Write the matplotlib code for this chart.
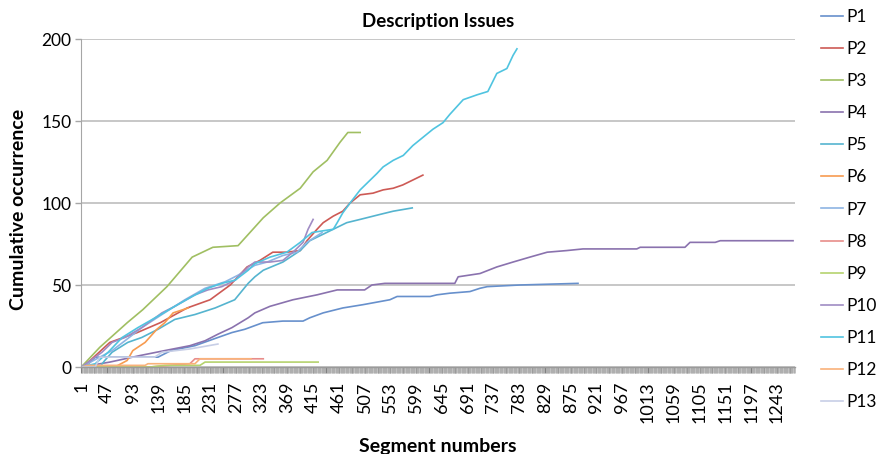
import numpy as np
import matplotlib
matplotlib.use('agg')
import matplotlib.pyplot as plt
from matplotlib.ticker import FixedLocator, MultipleLocator, FuncFormatter

plt.rcParams['font.family'] = ['Lato', 'DejaVu Sans']

# cumulative description issues per participant, (segment number, count) breakpoints
p1_x = [1, 8, 26, 138, 161, 204, 245, 270, 293, 325, 361, 397, 409, 433, 468, 504, 552, 565,
        624, 636, 659, 695, 713, 726, 784, 888]
p1_y = [0, 0, 6, 6, 10, 13, 18, 21, 23, 27, 28, 28, 30, 33, 36, 38, 41, 43,
        43, 44, 45, 46, 48, 49, 50, 51]
p2_x = [1, 17, 52, 101, 142, 190, 231, 267, 297, 320, 343, 368, 392, 404, 422, 433, 451, 468,
        481, 499, 522, 540, 558, 575, 593, 611]
p2_y = [0, 4, 15, 21, 27, 36, 41, 50, 61, 65, 70, 70, 71, 77, 84, 88, 92, 95,
        100, 105, 106, 108, 109, 111, 114, 117]
p3_x = [1, 34, 83, 111, 154, 199, 236, 281, 326, 356, 392, 415, 440, 463, 477, 499]
p3_y = [0, 12, 27, 35, 49, 67, 73, 74, 91, 100, 109, 119, 126, 137, 143, 143]
p4_x = [1, 52, 106, 150, 195, 222, 245, 270, 299, 311, 338, 379, 422, 458, 507, 520, 543, 668,
        674, 713, 743, 772, 802, 833, 868, 897, 993, 999, 1079, 1088, 1133, 1142, 1272]
p4_y = [0, 3, 7, 10, 13, 16, 20, 24, 30, 33, 37, 41, 44, 47, 47, 50, 51, 51,
        55, 57, 61, 64, 67, 70, 71, 72, 72, 73, 73, 76, 76, 77, 77]
p5_x = [1, 34, 43, 56, 84, 109, 138, 168, 204, 240, 275, 299, 311, 326, 361, 392, 409, 427,
        451, 475, 499, 534, 558, 592]
p5_y = [0, 0, 4, 9, 15, 18, 23, 29, 32, 36, 41, 51, 55, 59, 64, 71, 77, 80,
        84, 88, 90, 93, 95, 97]
p6_x = [1, 61, 83, 93, 115, 136, 150, 165, 192]
p6_y = [0, 0, 4, 10, 15, 23, 27, 33, 36]
p7_x = [1, 34, 56, 79, 109, 145, 186, 222, 258, 281, 311, 333, 361, 386, 404, 422, 431]
p7_y = [0, 6, 10, 16, 24, 32, 41, 48, 52, 56, 62, 64, 68, 70, 76, 80, 82]
p8_x = [1, 124, 159, 195, 204, 326]
p8_y = [0, 0, 1, 2, 5, 5]
p9_x = [1, 124, 150, 213, 222, 424]
p9_y = [0, 0, 1, 1, 3, 3]
p10_x = [1, 22, 38, 56, 79, 109, 145, 168, 204, 227, 252, 276, 284, 299, 311, 338, 361, 379,
         397, 406, 415]
p10_y = [0, 5, 9, 15, 18, 24, 33, 37, 44, 47, 49, 53, 56, 61, 64, 64, 65, 70,
         76, 84, 90]
p11_x = [1, 26, 49, 74, 102, 138, 168, 199, 227, 252, 276, 299, 311, 338, 368, 392, 413, 451,
         458, 468, 481, 499, 511, 529, 540, 558, 576, 593, 611, 629, 647, 659, 683, 708,
         727, 743, 761, 772, 779]
p11_y = [0, 2, 9, 18, 24, 31, 37, 43, 48, 51, 53, 59, 63, 67, 70, 76, 82, 84,
         88, 94, 100, 108, 112, 118, 122, 126, 129, 135, 140, 145, 149, 154, 163, 166,
         168, 179, 182, 190, 194]
p12_x = [1, 13, 115, 120, 204, 213, 304]
p12_y = [0, 1, 1, 2, 2, 5, 5]
p13_x = [1, 26, 34, 132, 145, 195, 245]
p13_y = [0, 0, 6, 6, 9, 11, 14]

labels = ['P%d' % i for i in range(1, 14)]
colors = ['#6790CC', '#CD5A55', '#A0BF62', '#8A72AE', '#55B4CF', '#F79B50', '#8EB4E3',
          '#E88D8A', '#B5D36E', '#A08CC4', '#50C4E0', '#F9B27A', '#C7CEE6']
n_segments = 1275

series = [(p1_x, p1_y), (p2_x, p2_y), (p3_x, p3_y), (p4_x, p4_y), (p5_x, p5_y),
          (p6_x, p6_y), (p7_x, p7_y), (p8_x, p8_y), (p9_x, p9_y), (p10_x, p10_y),
          (p11_x, p11_y), (p12_x, p12_y), (p13_x, p13_y)]

fig = plt.figure(figsize=(8.8, 4.54), dpi=100)
ax = fig.add_axes([81 / 880, 87 / 454, 714 / 880, 328 / 454])

for (xs, ys), lab, col in zip(series, labels, colors):
    ax.plot(xs, ys, color=col, lw=1.2, label=lab)

ax.set_xlim(0.5, n_segments + 0.5)
ax.set_ylim(0, 200)
ax.set_yticks([0, 50, 100, 150, 200])
ax.yaxis.grid(True, color='#BDBDBD', lw=1.2)
ax.set_axisbelow(True)

for side in ['top', 'right']:
    ax.spines[side].set_visible(False)
ax.spines['left'].set_color('#A6A6A6')
ax.spines['bottom'].set_color('#9A9A9A')
ax.spines['bottom'].set_linewidth(1.0)

# every segment gets a tick, which reads as a grey band under the axis
ax.xaxis.set_minor_locator(MultipleLocator(1))
ax.xaxis.set_major_locator(FixedLocator(np.arange(1, n_segments, 23)))
ax.xaxis.set_major_formatter(FuncFormatter(lambda v, p: '%d' % v if (int(v) - 1) % 46 == 0 else ''))
ax.tick_params(axis='x', which='minor', length=4.5, width=0.5, color='#A8A8A8')
ax.tick_params(axis='x', which='major', length=4.5, width=0.8, color='#808080',
               labelsize=13, labelrotation=90, pad=6)
ax.tick_params(axis='y', length=4, width=1, color='#A6A6A6', labelsize=12.5, pad=3)

ax.set_title('Description Issues', fontsize=13.5, fontweight='bold', pad=9)
ax.set_xlabel('Segment numbers', fontsize=14, fontweight='bold')
ax.set_ylabel('Cumulative occurrence', fontsize=14, fontweight='bold')
ax.xaxis.set_label_coords(0.5, -0.215)
ax.yaxis.set_label_coords(-0.076, 0.48)

fig.legend(loc='upper left', bbox_to_anchor=(812 / 880, 1.0), frameon=False,
           fontsize=12.5, handlelength=1.3, handletextpad=0.2, labelspacing=0.93,
           borderaxespad=0.1)

fig.savefig('out.png', dpi=100)
